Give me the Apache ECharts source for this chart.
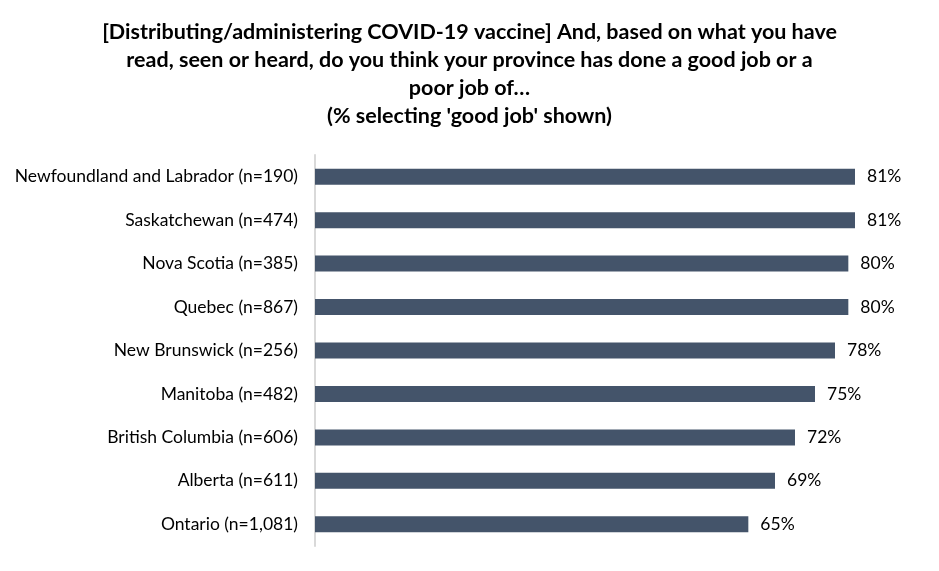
<!DOCTYPE html>
<html>
<head>
<meta charset="utf-8">
<script src="https://cdn.jsdelivr.net/npm/echarts@6/dist/echarts.min.js"></script>
<style>html,body{margin:0;padding:0;background:#fff}#c{width:939px;height:571px}</style>
</head>
<body>
<div id="c"></div>
<script>
const titleLines = [
  "[Distributing/administering COVID-19 vaccine] And, based on what you have",
  "read, seen or heard, do you think your province has done a good job or a",
  "poor job of…",
  "(% selecting 'good job' shown)"
];
const categories = [
  "Newfoundland and Labrador (n=190)",
  "Saskatchewan (n=474)",
  "Nova Scotia (n=385)",
  "Quebec (n=867)",
  "New Brunswick (n=256)",
  "Manitoba (n=482)",
  "British Columbia (n=606)",
  "Alberta (n=611)",
  "Ontario (n=1,081)"
];
const values = [81, 81, 80, 80, 78, 75, 72, 69, 65];

const chart = echarts.init(document.getElementById('c'), null, {renderer: 'canvas'});
chart.setOption({
  backgroundColor: '#fff',
  animation: false,
  title: {
    text: titleLines.join('\n'),
    left: 'center',
    top: 13,
    textStyle: {fontFamily: 'Lato', fontWeight: 'bold', fontSize: 21.5, lineHeight: 28, color: '#000'}
  },
  grid: {left: 315, right: 24, top: 155, bottom: 25, containLabel: false},
  xAxis: {
    type: 'value', min: 0, max: 90, show: false
  },
  yAxis: {
    type: 'category',
    data: categories,
    inverse: true,
    axisLine: {show: true, lineStyle: {color: '#d9d9d9', width: 2}},
    axisTick: {show: false},
    axisLabel: {fontFamily: 'Lato', fontSize: 17.5, color: '#000', margin: 17}
  },
  series: [{
    type: 'bar',
    data: values,
    barWidth: 16,
    itemStyle: {color: '#44546A'},
    label: {
      show: true, position: 'right', distance: 12,
      formatter: p => p.value + '%',
      fontFamily: 'Lato', fontSize: 17.5, color: '#000'
    }
  }]
});
</script>
</body>
</html>
